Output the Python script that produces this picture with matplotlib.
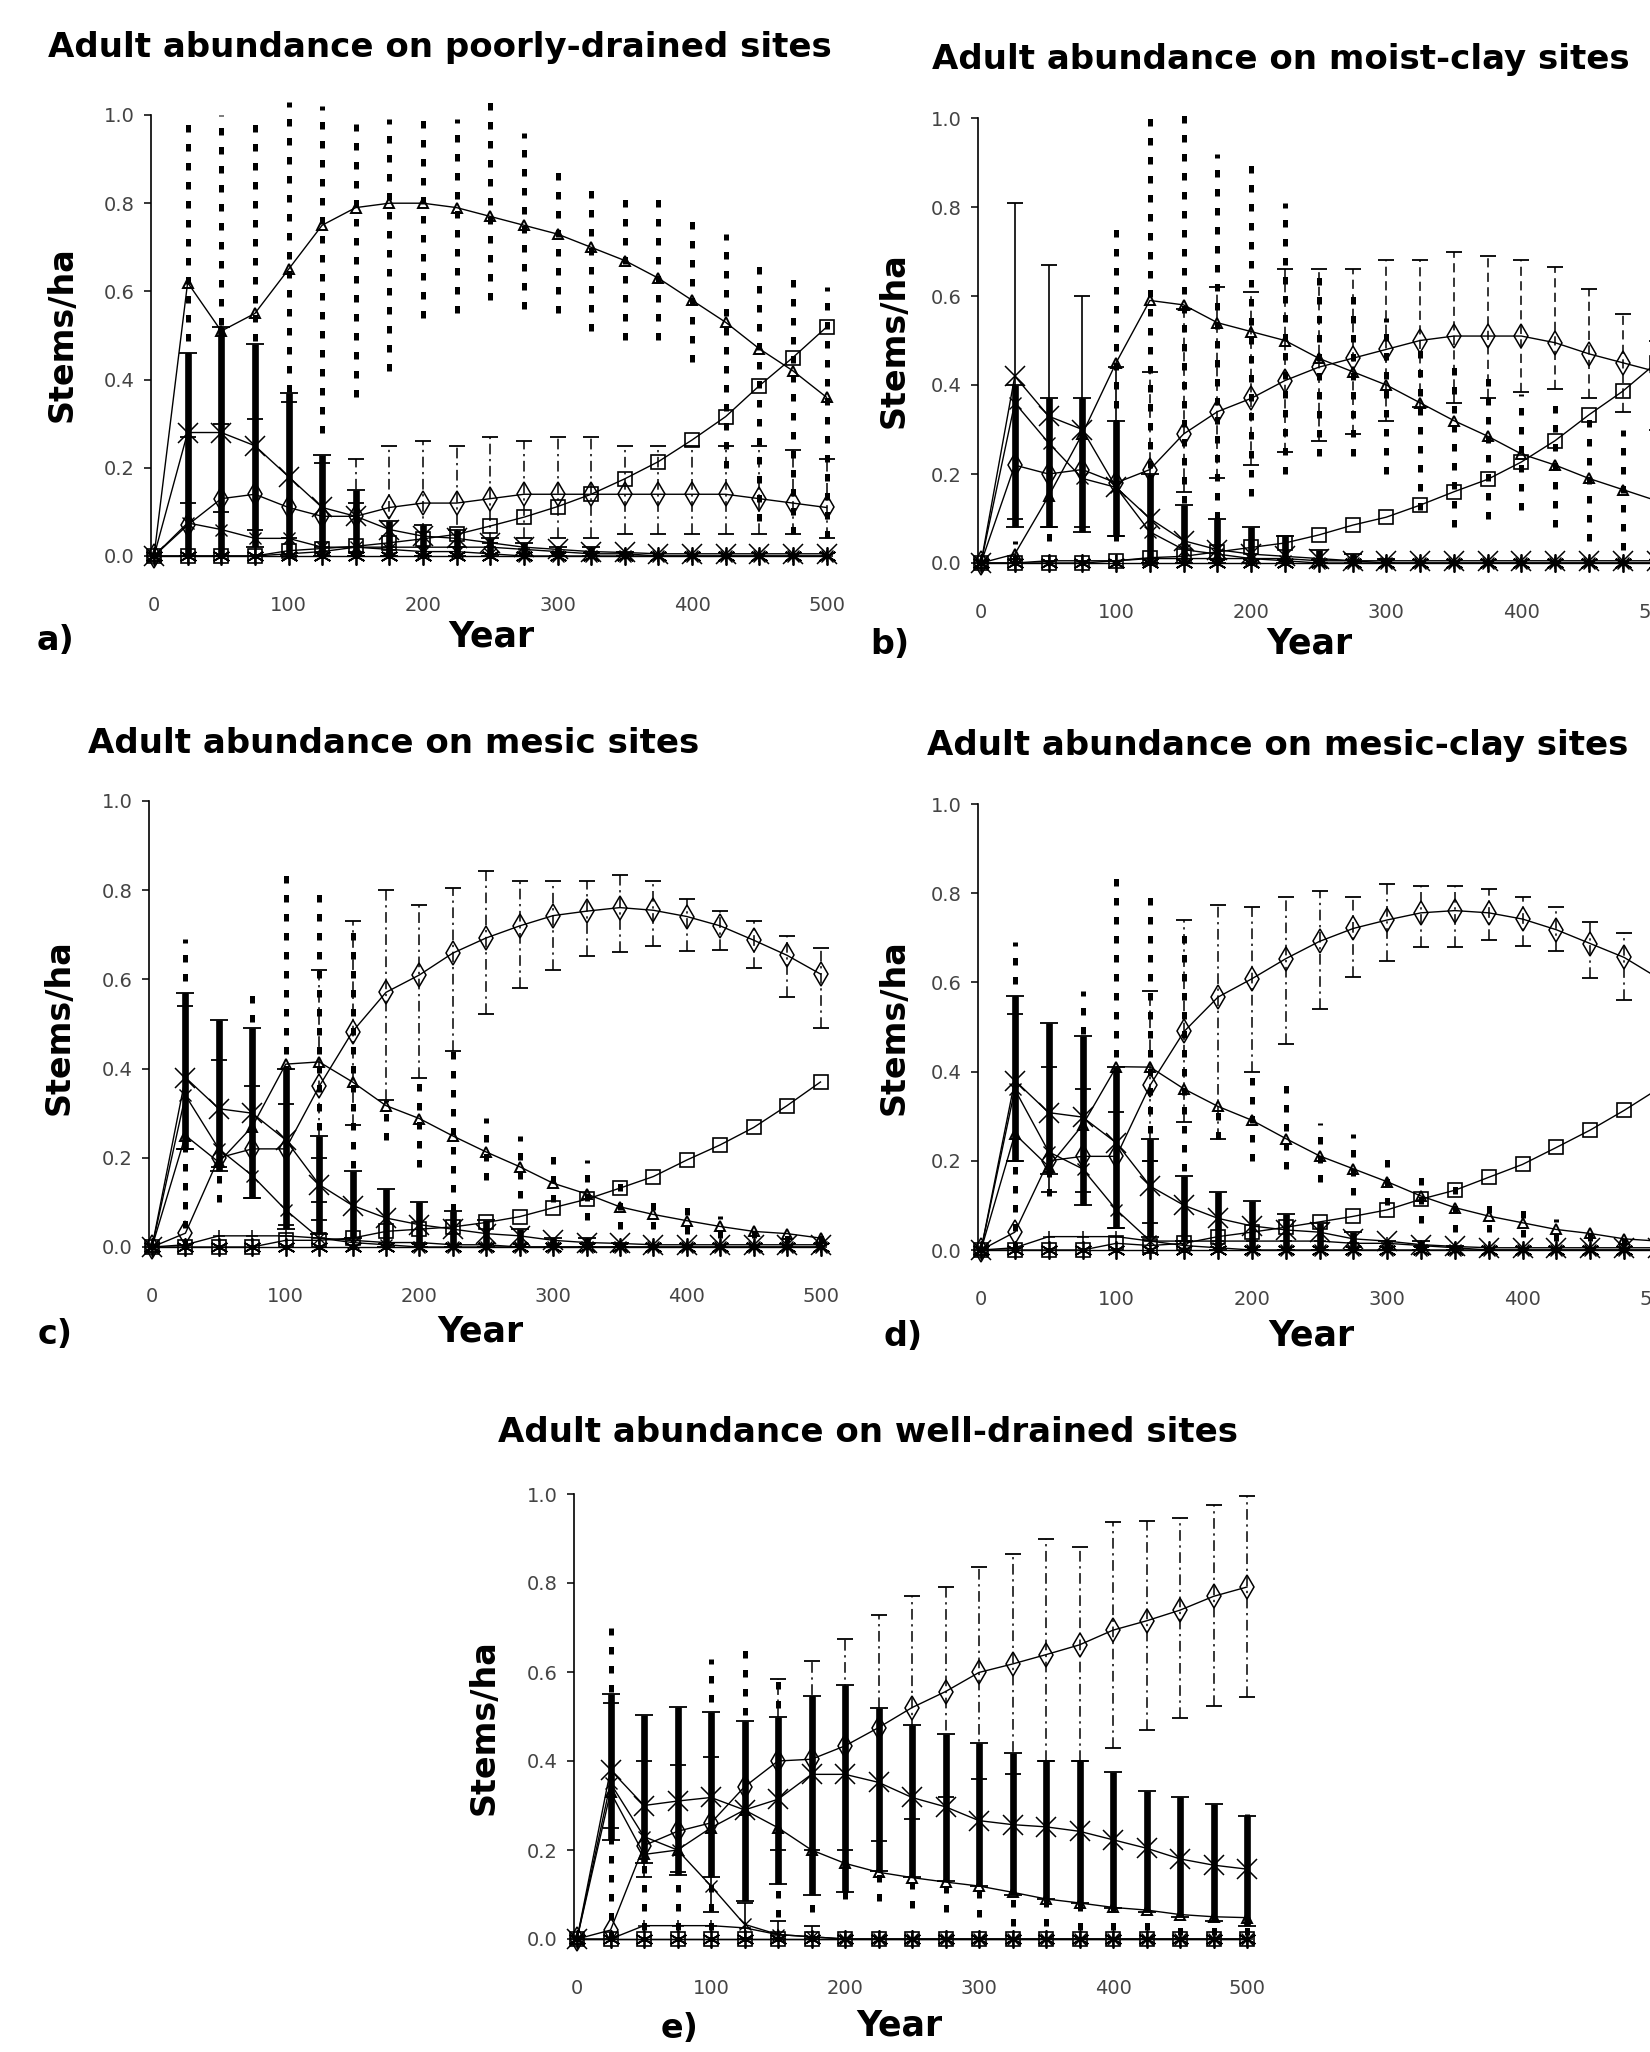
import matplotlib
matplotlib.use("Agg")
import matplotlib.pyplot as plt
import numpy as np

N = np.nan
YEARS = [0, 25, 50, 75, 100, 125, 150, 175, 200, 225, 250, 275, 300, 325, 350, 375, 400, 425, 450, 475, 500]
Z21 = [0.0] * 21

# ---------------- panel a: poorly-drained ----------------
A_TRI = [0, 0.62, 0.51, 0.55, 0.65, 0.75, 0.79, 0.80, 0.80, 0.79, 0.77, 0.75, 0.73, 0.70, 0.67, 0.63, 0.58, 0.53, 0.47, 0.42, 0.36]
A_DOT_HI = [N, 1.00, 1.00, 0.99, 1.03, 1.02, 0.98, 0.99, 0.99, 0.99, 1.03, 0.96, 0.88, 0.85, 0.82, 0.82, 0.78, 0.73, 0.68, 0.63, 0.61]
A_DOT_LO = [N, 0.10, 0.05, 0.10, 0.20, 0.28, 0.36, 0.42, 0.54, 0.55, 0.58, 0.56, 0.55, 0.51, 0.49, 0.49, 0.44, 0.20, 0.08, 0.05, 0.04]
A_DIA = [0, 0.07, 0.13, 0.14, 0.11, 0.09, 0.09, 0.11, 0.12, 0.12, 0.13, 0.14, 0.14, 0.14, 0.14, 0.14, 0.14, 0.14, 0.13, 0.12, 0.11]
A_DD_HI = [N, N, N, N, N, N, 0.22, 0.25, 0.26, 0.25, 0.27, 0.26, 0.27, 0.27, 0.25, 0.25, 0.25, 0.25, 0.25, 0.24, 0.22]
A_DD_LO = [N, N, N, N, N, N, 0.0, 0.0, 0.0, 0.02, 0.03, 0.04, 0.04, 0.04, 0.05, 0.05, 0.05, 0.05, 0.05, 0.05, 0.04]
A_SQ = [0, 0, 0, 0, 0.012, 0.017, 0.022, 0.03, 0.039, 0.049, 0.068, 0.088, 0.112, 0.14, 0.175, 0.214, 0.263, 0.316, 0.386, 0.45, 0.519]
A_X = [0, 0.28, 0.28, 0.25, 0.18, 0.11, 0.09, 0.06, 0.045, 0.04, 0.03, 0.02, 0.015, 0.01, 0.008, 0.005, 0.005, 0.005, 0.005, 0.005, 0.005]
A_THK_HI = [N, 0.46, 0.52, 0.48, 0.37, 0.23, 0.15, 0.08, 0.07, 0.06, 0.04, 0.03, 0.02, 0.02, 0.01, N, N, N, N, N, N]
A_THK_LO = [N, 0.0, 0.0, 0.02, 0.0, 0.0, 0.0, 0.0, 0.0, 0.0, 0.0, 0.0, 0.0, 0.0, 0.0, N, N, N, N, N, N]
A_THN_HI = [N, 0.27, 0.30, 0.31, 0.35, 0.21, 0.12, N, N, N, N, N, N, N, N, N, N, N, N, N, N]
A_THN_LO = [N, 0.12, 0.10, 0.06, 0.04, 0.02, 0.01, N, N, N, N, N, N, N, N, N, N, N, N, N, N]
A_SX = [0, 0.075, 0.06, 0.04, 0.04, 0.02, 0.02, 0.015, 0.01, 0.01, 0.005, 0, 0, 0, 0, 0, 0, 0, 0, 0, 0]
A_PL = [0, 0, 0, 0, 0.005, 0.01, 0.02, 0.02, 0.02, 0.02, 0.02, 0.015, 0.01, 0.005, 0.005, 0, 0, 0, 0, 0, 0]

# ---------------- panel b: moist-clay ----------------
B_TRI = [0, 0.02, 0.15, 0.29, 0.45, 0.59, 0.58, 0.54, 0.52, 0.50, 0.46, 0.43, 0.40, 0.36, 0.32, 0.285, 0.245, 0.22, 0.19, 0.165, 0.14]
B_DOT_HI = [N, 0.05, 0.20, 0.35, 0.77, 1.02, 1.02, 0.92, 0.90, 0.81, 0.65, 0.60, 0.55, 0.50, 0.46, 0.42, 0.38, 0.36, 0.33, 0.30, 0.27]
B_DOT_LO = [N, 0.0, 0.05, 0.10, 0.05, 0.0, 0.05, 0.10, 0.15, 0.20, 0.24, 0.24, 0.20, 0.12, 0.08, 0.10, 0.12, 0.08, 0.05, 0.03, 0.03]
B_DIA = [0, 0.22, 0.20, 0.21, 0.18, 0.21, 0.29, 0.34, 0.37, 0.41, 0.44, 0.46, 0.48, 0.50, 0.51, 0.51, 0.51, 0.495, 0.47, 0.45, 0.43]
B_DD_HI = [N, N, N, N, N, 0.43, 0.57, 0.62, 0.61, 0.66, 0.66, 0.66, 0.68, 0.68, 0.70, 0.69, 0.68, 0.665, 0.615, 0.56, 0.50]
B_DD_LO = [N, N, N, N, N, 0.0, 0.16, 0.19, 0.22, 0.25, 0.275, 0.29, 0.32, 0.35, 0.36, 0.37, 0.385, 0.39, 0.37, 0.34, 0.30]
B_SQ = [0, 0, 0, 0, 0.005, 0.012, 0.015, 0.025, 0.035, 0.045, 0.063, 0.085, 0.103, 0.13, 0.16, 0.188, 0.227, 0.275, 0.333, 0.386, 0.45]
B_X = [0, 0.42, 0.33, 0.30, 0.17, 0.10, 0.05, 0.03, 0.02, 0.015, 0.01, 0.005, 0.005, 0.005, 0.005, 0.005, 0.005, 0.005, 0.005, 0.005, 0.005]
B_THK_HI = [N, 0.40, 0.37, 0.37, 0.32, 0.20, 0.13, 0.10, 0.08, 0.06, 0.03, 0.02, 0.01, N, N, N, N, N, N, N, N]
B_THK_LO = [N, 0.08, 0.08, 0.07, 0.06, 0.0, 0.0, 0.0, 0.0, 0.0, 0.0, 0.0, 0.0, N, N, N, N, N, N, N, N]
B_THN_HI = [N, 0.81, 0.67, 0.60, 0.44, N, N, N, N, N, N, N, N, N, N, N, N, N, N, N, N]
B_THN_LO = [N, 0.10, 0.08, 0.08, 0.06, N, N, N, N, N, N, N, N, N, N, N, N, N, N, N, N]
B_SX = [0, 0.36, 0.27, 0.19, 0.17, 0.07, 0.03, 0.02, 0.01, 0.005, 0, 0, 0, 0, 0, 0, 0, 0, 0, 0, 0]
B_PL = [0, 0, 0.005, 0.005, 0.005, 0.01, 0.01, 0.01, 0.01, 0.01, 0.005, 0.005, 0, 0, 0, 0, 0, 0, 0, 0, 0]

# ---------------- panel c: mesic ----------------
C_TRI = [0, 0.25, 0.19, 0.27, 0.41, 0.415, 0.37, 0.317, 0.288, 0.249, 0.213, 0.18, 0.143, 0.119, 0.09, 0.073, 0.059, 0.046, 0.035, 0.03, 0.02]
C_DOT_HI = [N, 0.69, 0.52, 0.59, 0.85, 0.80, 0.73, 0.33, 0.38, 0.44, 0.29, 0.25, 0.22, 0.195, 0.16, 0.11, 0.09, 0.07, 0.05, 0.04, 0.03]
C_DOT_LO = [N, 0.0, 0.10, 0.12, 0.05, 0.05, 0.05, 0.24, 0.18, 0.08, 0.15, 0.11, 0.10, 0.06, 0.04, 0.04, 0.03, 0.02, 0.02, 0.01, 0.01]
C_DIA = [0, 0.031, 0.20, 0.22, 0.22, 0.36, 0.483, 0.571, 0.61, 0.659, 0.693, 0.72, 0.743, 0.753, 0.761, 0.755, 0.741, 0.72, 0.688, 0.654, 0.612]
C_DD_HI = [N, N, N, N, N, 0.62, 0.732, 0.80, 0.766, 0.805, 0.844, 0.82, 0.82, 0.82, 0.834, 0.82, 0.78, 0.753, 0.73, 0.698, 0.671]
C_DD_LO = [N, N, N, N, N, 0.10, 0.273, 0.33, 0.38, 0.44, 0.522, 0.58, 0.62, 0.652, 0.661, 0.676, 0.663, 0.665, 0.626, 0.561, 0.49]
C_SQ = [0, 0, 0, 0, 0.015, 0.015, 0.02, 0.035, 0.04, 0.045, 0.055, 0.068, 0.088, 0.107, 0.132, 0.158, 0.195, 0.229, 0.268, 0.317, 0.37]
C_X = [0, 0.38, 0.31, 0.30, 0.24, 0.14, 0.093, 0.065, 0.05, 0.04, 0.03, 0.025, 0.015, 0.01, 0.008, 0.005, 0.005, 0.005, 0.005, 0.005, 0.005]
C_THK_HI = [N, 0.57, 0.51, 0.49, 0.40, 0.25, 0.17, 0.13, 0.10, 0.08, 0.06, 0.04, 0.02, 0.02, 0.01, N, N, N, N, N, N]
C_THK_LO = [N, 0.22, 0.17, 0.11, 0.04, 0.03, 0.02, 0.0, 0.0, 0.0, 0.0, 0.0, 0.0, 0.0, 0.0, N, N, N, N, N, N]
C_THN_HI = [N, 0.54, 0.42, 0.36, 0.32, 0.20, N, N, N, N, N, N, N, N, N, N, N, N, N, N, N]
C_THN_LO = [N, 0.22, 0.18, 0.11, 0.05, 0.06, N, N, N, N, N, N, N, N, N, N, N, N, N, N, N]
C_SX = [0, 0.34, 0.22, 0.16, 0.083, 0.02, 0.01, 0.005, 0, 0, 0, 0, 0, 0, 0, 0, 0, 0, 0, 0, 0]
C_PL = [0, 0.005, 0.025, 0.025, 0.025, 0.02, 0.015, 0.01, 0.01, 0.005, 0.005, 0, 0, 0, 0, 0, 0, 0, 0, 0, 0]

# ---------------- panel d: mesic-clay ----------------
D_TRI = [0, 0.26, 0.187, 0.28, 0.411, 0.41, 0.361, 0.322, 0.291, 0.25, 0.211, 0.182, 0.153, 0.121, 0.095, 0.076, 0.061, 0.046, 0.037, 0.025, 0.02]
D_DOT_HI = [N, 0.69, 0.50, 0.58, 0.853, 0.80, 0.73, 0.33, 0.40, 0.37, 0.284, 0.26, 0.22, 0.182, 0.15, 0.11, 0.09, 0.07, 0.05, 0.04, 0.03]
D_DOT_LO = [N, 0.0, 0.12, 0.10, 0.05, 0.05, 0.05, 0.25, 0.20, 0.182, 0.153, 0.124, 0.10, 0.06, 0.04, 0.04, 0.03, 0.02, 0.02, 0.01, 0.01]
D_DIA = [0, 0.04, 0.20, 0.21, 0.21, 0.37, 0.49, 0.567, 0.608, 0.653, 0.692, 0.721, 0.74, 0.756, 0.761, 0.756, 0.742, 0.718, 0.687, 0.656, 0.61]
D_DD_HI = [N, N, N, N, N, 0.58, 0.74, 0.774, 0.768, 0.792, 0.804, 0.792, 0.821, 0.816, 0.816, 0.81, 0.792, 0.77, 0.736, 0.711, 0.67]
D_DD_LO = [N, N, N, N, N, 0.20, 0.288, 0.25, 0.40, 0.463, 0.54, 0.613, 0.649, 0.68, 0.68, 0.695, 0.682, 0.671, 0.61, 0.56, 0.49]
D_SQ = [0, 0, 0, 0, 0.015, 0.01, 0.015, 0.03, 0.04, 0.051, 0.063, 0.0755, 0.09, 0.114, 0.134, 0.163, 0.192, 0.23, 0.269, 0.313, 0.361]
D_X = [0, 0.38, 0.308, 0.298, 0.24, 0.143, 0.10, 0.071, 0.054, 0.045, 0.04, 0.025, 0.02, 0.012, 0.008, 0.005, 0.005, 0.005, 0.005, 0.005, 0.005]
D_THK_HI = [N, 0.569, 0.51, 0.48, 0.41, 0.25, 0.167, 0.13, 0.11, 0.08, 0.06, 0.04, 0.02, 0.02, 0.01, N, N, N, N, N, N]
D_THK_LO = [N, 0.20, 0.17, 0.10, 0.05, 0.03, 0.02, 0.0, 0.0, 0.0, 0.0, 0.0, 0.0, 0.0, 0.0, N, N, N, N, N, N]
D_THN_HI = [N, 0.53, 0.41, 0.36, 0.31, 0.20, N, N, N, N, N, N, N, N, N, N, N, N, N, N, N]
D_THN_LO = [N, 0.20, 0.13, 0.13, 0.05, 0.06, N, N, N, N, N, N, N, N, N, N, N, N, N, N, N]
D_SX = [0, 0.36, 0.22, 0.182, 0.09, 0.02, 0.01, 0.005, 0, 0, 0, 0, 0, 0, 0, 0, 0, 0, 0, 0, 0]
D_PL = [0, 0.005, 0.03, 0.03, 0.03, 0.02, 0.02, 0.02, 0.02, 0.02, 0.02, 0.015, 0.015, 0.01, 0.005, 0, 0, 0, 0, 0, 0]

# ---------------- panel e: well-drained ----------------
E_TRI = [0, 0.33, 0.19, 0.20, 0.25, 0.29, 0.25, 0.20, 0.17, 0.15, 0.138, 0.128, 0.119, 0.105, 0.09, 0.081, 0.071, 0.065, 0.055, 0.05, 0.048]
E_DOT_HI = [N, 0.70, 0.50, 0.52, 0.63, 0.67, 0.58, 0.55, 0.55, 0.50, 0.46, 0.44, 0.42, 0.40, 0.38, 0.36, 0.35, 0.33, 0.32, 0.30, 0.28]
E_DOT_LO = [N, 0.0, 0.02, 0.02, 0.02, 0.12, 0.05, 0.06, 0.09, 0.085, 0.07, 0.06, 0.05, 0.03, 0.03, 0.02, 0.02, 0.02, 0.01, 0.01, 0.01]
E_DIA = [0, 0.02, 0.21, 0.242, 0.261, 0.342, 0.40, 0.404, 0.434, 0.475, 0.52, 0.556, 0.599, 0.618, 0.639, 0.661, 0.694, 0.715, 0.739, 0.77, 0.791]
E_DD_HI = [N, N, N, N, N, N, 0.585, 0.625, 0.675, 0.727, 0.77, 0.79, 0.837, 0.865, 0.90, 0.881, 0.936, 0.94, 0.946, 0.976, 0.996]
E_DD_LO = [N, N, N, N, N, N, 0.20, 0.20, 0.20, 0.22, 0.27, 0.32, 0.36, 0.37, 0.40, 0.40, 0.43, 0.47, 0.497, 0.523, 0.544]
E_SQ = Z21
E_X = [0, 0.38, 0.30, 0.31, 0.318, 0.29, 0.314, 0.37, 0.37, 0.352, 0.318, 0.297, 0.266, 0.257, 0.252, 0.242, 0.223, 0.204, 0.18, 0.166, 0.157]
E_THK_HI = [N, 0.551, 0.504, 0.521, 0.51, 0.49, 0.50, 0.547, 0.57, 0.518, 0.48, 0.461, 0.44, 0.418, 0.40, 0.401, 0.375, 0.333, 0.318, 0.304, 0.276]
E_THK_LO = [N, 0.223, 0.17, 0.143, 0.14, 0.086, 0.124, 0.10, 0.105, 0.152, 0.14, 0.13, 0.12, 0.10, 0.09, 0.08, 0.07, 0.06, 0.05, 0.04, 0.03]
E_THN_HI = [N, 0.53, 0.40, 0.39, 0.41, 0.08, 0.04, 0.03, N, N, N, N, N, N, N, N, N, N, N, N, N]
E_THN_LO = [N, 0.25, 0.14, 0.15, 0.06, 0.0, 0.0, 0.0, N, N, N, N, N, N, N, N, N, N, N, N, N]
E_SX = [0, 0.35, 0.23, 0.20, 0.119, 0.033, 0.01, 0.005, 0, 0, 0, 0, 0, 0, 0, 0, 0, 0, 0, 0, 0]
E_PL = [0, 0, 0.03, 0.03, 0.03, 0.025, 0.01, 0.005, 0, 0, 0, 0, 0, 0, 0, 0, 0, 0, 0, 0, 0]

TITLES = ["Adult abundance on poorly-drained sites", "Adult abundance on moist-clay sites",
          "Adult abundance on mesic sites", "Adult abundance on mesic-clay sites",
          "Adult abundance on well-drained sites"]
LETTERS = ["a)", "b)", "c)", "d)", "e)"]
YTICKS = [0.0, 0.2, 0.4, 0.6, 0.8, 1.0]
YTICKLABELS = ["0.0", "0.2", "0.4", "0.6", "0.8", "1.0"]
XTICKS = [0, 100, 200, 300, 400, 500]
XTICKLABELS = ["0", "100", "200", "300", "400", "500"]

W, H = 1650, 2052
fig = plt.figure(figsize=(W / 100, H / 100), dpi=100)
fig.patch.set_facecolor("white")

# layout in pixels: data x=0 position, px per year, data y=0 position, px per unit
LAYOUT = [
    dict(x0=154, ppy=1.345, y0=556, ppu=441, title=(440, 48), year=(491, 637), letter=(55, 641), ylab=(62, 334)),
    dict(x0=981, ppy=1.351, y0=563, ppu=445, title=(1281, 59), year=(1309, 644), letter=(890, 644), ylab=(894, 340)),
    dict(x0=152, ppy=1.337, y0=1247, ppu=446, title=(394, 743), year=(480, 1332), letter=(55, 1335), ylab=(59, 1027)),
    dict(x0=981, ppy=1.354, y0=1250, ppu=446, title=(1278, 746), year=(1311, 1335), letter=(903, 1337), ylab=(894, 1027)),
    dict(x0=577, ppy=1.340, y0=1939, ppu=445, title=(868, 1432), year=(899, 2026), letter=(680, 2028), ylab=(484, 1727)),
]

DATA = [
    (A_TRI, A_DOT_HI, A_DOT_LO, A_DIA, A_DD_HI, A_DD_LO, A_SQ, A_X, A_THK_HI, A_THK_LO, A_THN_HI, A_THN_LO, A_SX, A_PL, "dashdot"),
    (B_TRI, B_DOT_HI, B_DOT_LO, B_DIA, B_DD_HI, B_DD_LO, B_SQ, B_X, B_THK_HI, B_THK_LO, B_THN_HI, B_THN_LO, B_SX, B_PL, "dashed"),
    (C_TRI, C_DOT_HI, C_DOT_LO, C_DIA, C_DD_HI, C_DD_LO, C_SQ, C_X, C_THK_HI, C_THK_LO, C_THN_HI, C_THN_LO, C_SX, C_PL, "dashdot"),
    (D_TRI, D_DOT_HI, D_DOT_LO, D_DIA, D_DD_HI, D_DD_LO, D_SQ, D_X, D_THK_HI, D_THK_LO, D_THN_HI, D_THN_LO, D_SX, D_PL, "dashdot"),
    (E_TRI, E_DOT_HI, E_DOT_LO, E_DIA, E_DD_HI, E_DD_LO, E_SQ, E_X, E_THK_HI, E_THK_LO, E_THN_HI, E_THN_LO, E_SX, E_PL, "dashdot"),
]

XMIN, XMAX = -2, 510
BIG = dict(family="DejaVu Sans", weight="bold")
YR = np.array(YEARS, dtype=float)


def bars(ax, lo, hi, lw, ls, cap=None, z=2):
    lo = np.array(lo, dtype=float)
    hi = np.array(hi, dtype=float)
    m = ~(np.isnan(lo) | np.isnan(hi))
    ax.vlines(YR[m], lo[m], hi[m], colors="k", linewidth=lw, linestyles=[ls], zorder=z, clip_on=False)
    if cap:
        ax.plot(YR[m], hi[m], ls="none", marker="_", ms=cap, mew=1.3, color="k", zorder=z, clip_on=False)
        ax.plot(YR[m], lo[m], ls="none", marker="_", ms=cap, mew=1.3, color="k", zorder=z, clip_on=False)


for i, (lay, dat) in enumerate(zip(LAYOUT, DATA)):
    (tri, dhi, dlo, dia, ddhi, ddlo, sq, xx, khi, klo, nhi, nlo, sx, pl, ddstyle) = dat
    left = lay["x0"] + XMIN * lay["ppy"]
    width = (XMAX - XMIN) * lay["ppy"]
    ax = fig.add_axes([left / W, 1 - lay["y0"] / H, width / W, lay["ppu"] / H])
    ax.set_xlim(XMIN, XMAX)
    ax.set_ylim(0, 1.0)
    ax.set_facecolor("none")
    for s in ("top", "right", "bottom"):
        ax.spines[s].set_visible(False)
    ax.spines["left"].set_linewidth(1.2)
    ax.set_yticks(YTICKS)
    ax.set_yticklabels(YTICKLABELS)
    ax.set_xticks(XTICKS)
    ax.set_xticklabels(XTICKLABELS)
    ax.tick_params(axis="y", length=5, width=1.1, pad=7, labelsize=14, labelcolor="#444444", direction="out")
    ax.tick_params(axis="x", length=0, pad=29, labelsize=14, labelcolor="#444444")

    # error bars
    bars(ax, dlo, dhi, 3.6, (0, (1.5, 2.3)), z=2)
    ddls = (0, (7, 3, 1.5, 3)) if ddstyle == "dashdot" else (0, (6, 3.5))
    bars(ax, ddlo, ddhi, 1.1, ddls, cap=11, z=2)
    bars(ax, nlo, nhi, 1.2, "solid", cap=12, z=2)
    bars(ax, klo, khi, 4.8, "solid", cap=13, z=2)

    common = dict(color="k", lw=1.0, clip_on=False, zorder=3)
    ax.plot(YR, Z21, marker=(6, 2, 0), ms=13, mew=1.3, **common)
    ax.plot(YR, pl, marker="+", ms=9, mew=1.1, **common)
    ax.plot(YR, sx, marker="x", ms=9, mew=1.0, **common)
    ax.plot(YR, xx, marker="x", ms=14, mew=1.1, **common)
    ax.plot(YR, sq, marker="s", ms=10, mfc="none", mew=1.2, **common)
    ax.plot(YR, dia, marker="d", ms=12, mfc="none", mew=1.1, **common)
    ax.plot(YR, tri, marker="^", ms=7, mfc="none", mew=1.4, **common)

    fig.text(lay["title"][0] / W, 1 - lay["title"][1] / H, TITLES[i], ha="center", va="center", fontsize=24.5, **BIG)
    fig.text(lay["year"][0] / W, 1 - lay["year"][1] / H, "Year", ha="center", va="center", fontsize=25, **BIG)
    fig.text(lay["letter"][0] / W, 1 - lay["letter"][1] / H, LETTERS[i], ha="center", va="center", fontsize=24, **BIG)
    fig.text(lay["ylab"][0] / W, 1 - lay["ylab"][1] / H, "Stems/ha", ha="center", va="center", rotation=90, fontsize=24, **BIG)

fig.savefig("out.png", dpi=100, facecolor="white")
